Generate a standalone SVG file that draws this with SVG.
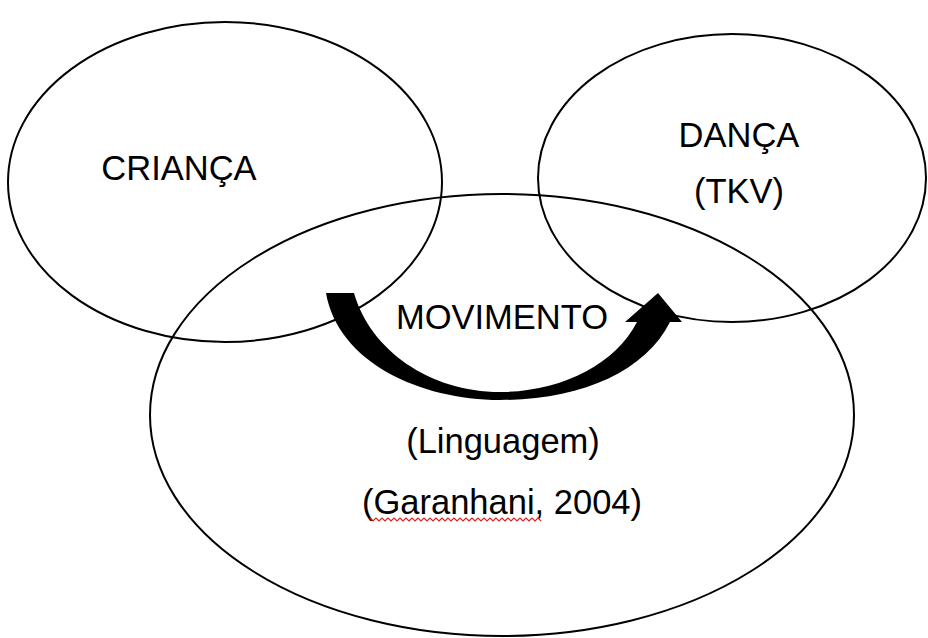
<svg xmlns="http://www.w3.org/2000/svg" width="928" height="638" viewBox="0 0 928 638">
<style>
.e{fill:none;stroke:#000;stroke-width:2}
.t{font-family:"Liberation Sans",Arial,sans-serif;font-size:34.5px;fill:#000;text-anchor:middle}
</style>
<rect width="928" height="638" fill="#fff"/>
<g id="crianca">
<ellipse class="e" cx="225" cy="182" rx="217" ry="160"/>
<text class="t" x="179" y="180">CRIANÇA</text>
</g>
<g id="danca">
<ellipse class="e" cx="732" cy="178" rx="194" ry="144"/>
<text class="t" x="739" y="147">DANÇA</text>
<text class="t" x="739" y="203">(TKV)</text>
</g>
<g id="movimento">
<ellipse class="e" cx="502" cy="415" rx="352" ry="221"/>
<text class="t" x="502" y="329">MOVIMENTO</text>
<text class="t" x="503" y="453">(Linguagem)</text>
<text class="t" x="502" y="514">(Garanhani, 2004)</text>
<polyline fill="none" stroke="#e02020" stroke-width="1.2" points="370,518 373,521 376,518 379,521 382,518 385,521 388,518 391,521 394,518 397,521 400,518 403,521 406,518 409,521 412,518 415,521 418,518 421,521 424,518 427,521 430,518 433,521 436,518 439,521 442,518 445,521 448,518 451,521 454,518 457,521 460,518 463,521 466,518 469,521 472,518 475,521 478,518 481,521 484,518 487,521 490,518 493,521 496,518 499,521 502,518 505,521 508,518 511,521 514,518 517,521 520,518 523,521 526,518 529,521 532,518 535,521 538,518 541,521"/>
</g>
<g id="connectors">
<path fill="#000" d="M 326 293 L 354 293 C 370 350 430 392 500 392 C 560 392 615 365 637 322 L 625 322 L 658 293 L 682 322 L 670 322 C 645 372 580 400 500 400 C 420 400 338 362 326 293 Z"/>
</g>
</svg>
